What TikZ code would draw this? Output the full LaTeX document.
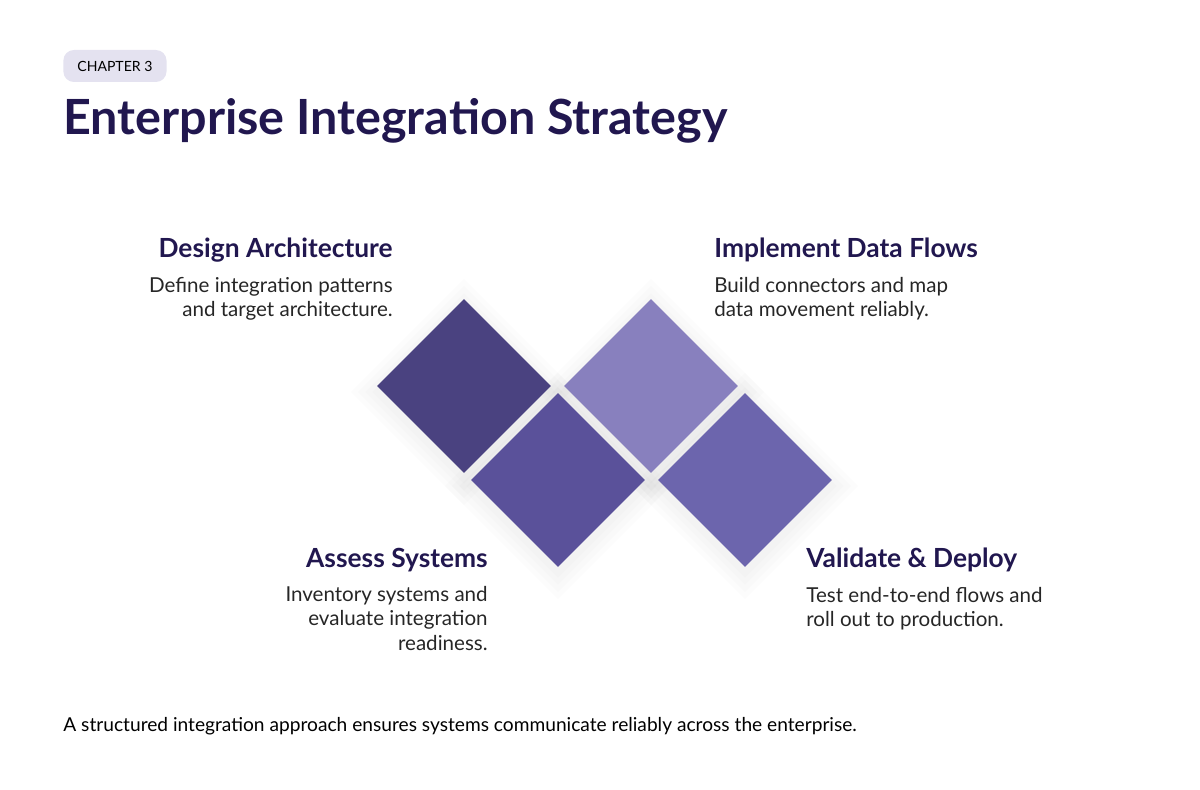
\documentclass[tikz,border=0pt]{standalone}
\usepackage{fontspec}
\setmainfont{Lato}
\usetikzlibrary{positioning}
\definecolor{ink}{HTML}{21174F}
\definecolor{badge}{HTML}{E4E2F0}
\definecolor{tileA}{HTML}{4A4280}
\definecolor{tileB}{HTML}{5A519A}
\definecolor{tileC}{HTML}{8880BE}
\definecolor{tileD}{HTML}{6C65AD}
\begin{document}
\begin{tikzpicture}[x=0.02cm,y=-0.02cm,
			tile/.style = {draw=none, minimum size=2.46cm, rotate=45, inner sep=0pt},
			halo/.style = {tile, fill=black, opacity=0.012},
			head/.style = {font=\fontsize{15}{18}\selectfont\bfseries, text=ink, inner sep=0pt},
			body/.style = {font=\fontsize{11.7}{13.7}\selectfont, text=black!85, inner sep=0pt}
			]
			\useasboundingbox (0,0) rectangle (1200,790);
			% Header
			\node (chap) [fill=badge, rounded corners=6pt, minimum height=0.64cm, inner xsep=8pt,
				font=\fontsize{8}{10}\selectfont, anchor=west] at (63,66) {CHAPTER 3};
			\node (title) [anchor=west, text=ink, inner sep=0pt,
				font=\fontsize{27.6}{32}\selectfont\bfseries] at (63,121) {Enterprise Integration Strategy};
			% Tiles
			\foreach \n/\x/\y in {t1/464/386, t2/558/480, t3/651/386, t4/745/480}{
				\foreach \s in {2.6,2.8,3.0,3.2}
					\node [halo, minimum size=\s cm] at (\x,\y+6) {};
			}
			\foreach \n/\x/\y/\c in {t1/464/386/tileA, t2/558/480/tileB, t3/651/386/tileC, t4/745/480/tileD}
				\node (\n) [tile, fill=\c] at (\x,\y) {};
			% Labels
			\node (h1) [head, anchor=north east] at (393,238) {Design Architecture};
			\node (b1) [body, below=0.28cm of h1.south east, anchor=north east, align=right] {Define integration patterns\\and target architecture.};
			\node (h3) [head, anchor=north west] at (714,238) {Implement Data Flows};
			\node (b3) [body, below=0.28cm of h3.south west, anchor=north west, align=left] {Build connectors and map\\data movement reliably.};
			\node (h2) [head, anchor=north east] at (488,548) {Assess Systems};
			\node (b2) [body, below=0.28cm of h2.south east, anchor=north east, align=right] {Inventory systems and\\evaluate integration\\readiness.};
			\node (h4) [head, anchor=north west] at (806,548) {Validate \& Deploy};
			\node (b4) [body, below=0.28cm of h4.south west, anchor=north west, align=left] {Test end-to-end flows and\\roll out to production.};
			% Footer
			\node (foot) [anchor=west, inner sep=0pt, font=\fontsize{10.9}{13}\selectfont] at (63,726) {A structured integration approach ensures systems communicate reliably across the enterprise.};
		\end{tikzpicture}
\end{document}
